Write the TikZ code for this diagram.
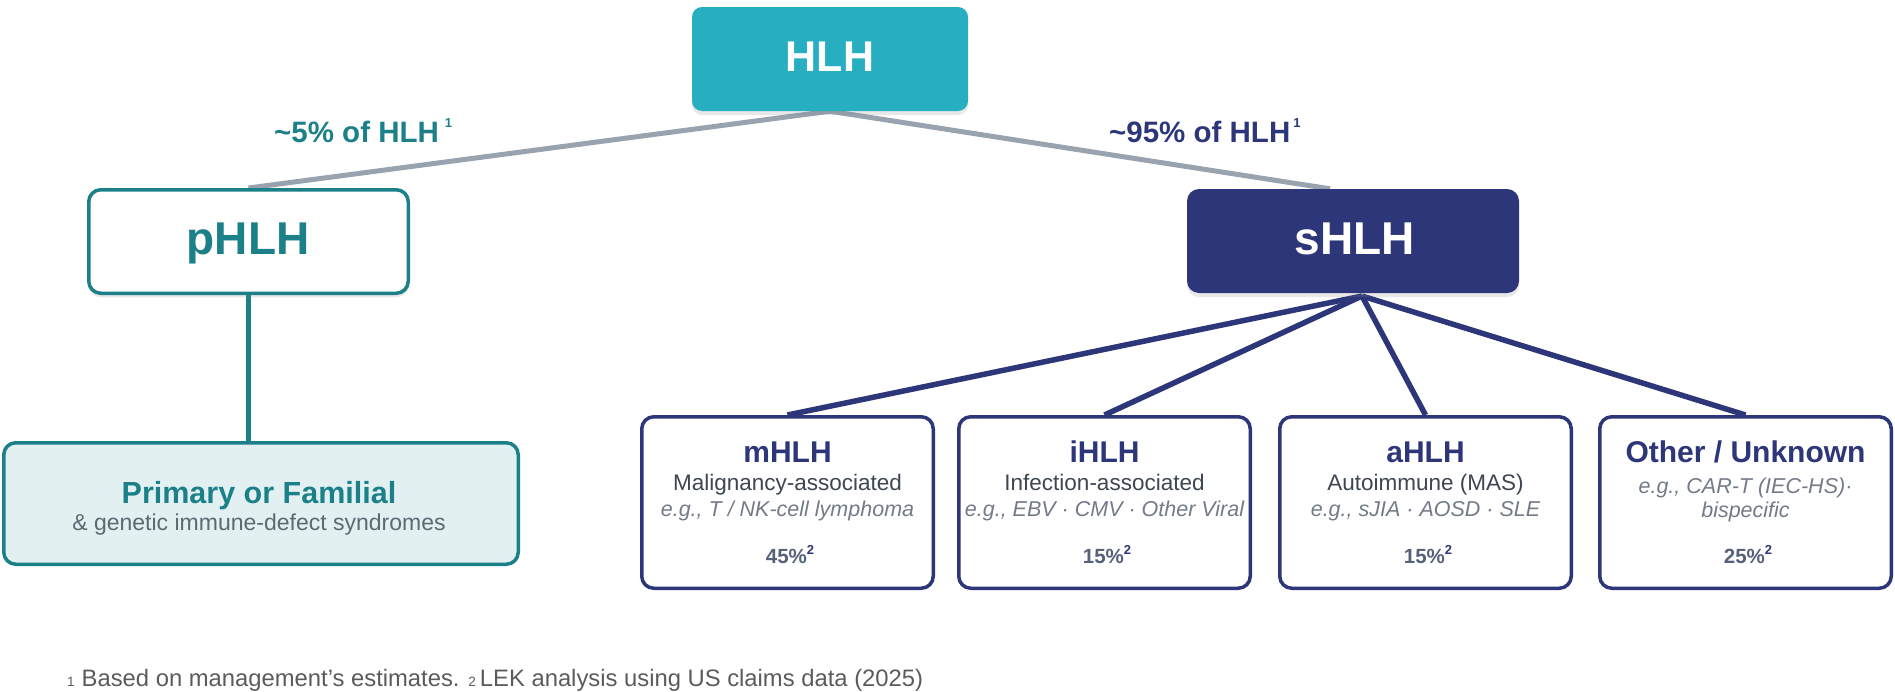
\documentclass[tikz,border=0pt]{standalone}
\usepackage{fontspec}
\setmainfont{Liberation Sans}
\usetikzlibrary{shadows,backgrounds,calc}
\definecolor{hlhcyan}{HTML}{28AEC1}
\definecolor{tealc}{HTML}{1C8089}
\definecolor{navyc}{HTML}{2D3679}
\definecolor{conngray}{HTML}{99A3B0}
\definecolor{primfill}{HTML}{E2F0F2}
\definecolor{subgray}{HTML}{3E4652}
\definecolor{exgray}{HTML}{737B89}
\definecolor{pctgray}{HTML}{56617A}
\definecolor{notegray}{HTML}{5B5B5B}
\definecolor{primsub}{HTML}{5F6872}
\newcommand{\fsz}[1]{\fontsize{#1}{#1}\selectfont}
\begin{document}
\begin{tikzpicture}[x=1pt,y=-1pt,
  boxbase/.style={rectangle, rounded corners=12pt, inner sep=0pt},
  softshadow/.style={drop shadow={opacity=0.18, shadow xshift=0pt, shadow yshift=-4pt}},
  hlhbox/.style={boxbase, rounded corners=10pt, fill=hlhcyan, minimum width=276pt, minimum height=104pt, softshadow},
  pbox/.style={boxbase, draw=tealc, line width=3.5pt, fill=white, minimum width=319.5pt, minimum height=103.5pt, softshadow},
  sbox/.style={boxbase, fill=navyc, minimum width=332pt, minimum height=104pt, softshadow},
  primbox/.style={boxbase, draw=tealc, line width=3.5pt, fill=primfill, minimum width=514.5pt, minimum height=121.5pt},
  subbox/.style={boxbase, draw=navyc, line width=3.5pt, fill=white, minimum width=291.5pt, minimum height=171.5pt},
  txt/.style={inner sep=0pt, anchor=base},
  bigtxt/.style={txt, font=\fsz{46}\bfseries},
  ttl/.style={txt, font=\fsz{30}\bfseries, text=navyc},
  subt/.style={txt, font=\fsz{22.5}, text=subgray},
  ex/.style={txt, font=\fsz{21.5}\itshape, text=exgray},
  pct/.style={txt, font=\fsz{20.5}\bfseries, text=pctgray},
  grayconn/.style={draw=conngray, line width=5pt},
  tealconn/.style={draw=tealc, line width=4.5pt},
  navyconn/.style={draw=navyc, line width=5.5pt},
]
\useasboundingbox (0,0) rectangle (1895,691);

% main boxes
\node[hlhbox] (hlh) at (830,59) {};
\node[pbox] (p) at (248.5,241.5) {};
\node[sbox] (s) at (1353,241) {};
\node[primbox] (prim) at (261,503.5) {};
\node[subbox] (m) at (787.5,502.5) {};
\node[subbox] (i) at (1104.5,502.5) {};
\node[subbox] (a) at (1425.5,502.5) {};
\node[subbox] (o) at (1745.5,502.5) {};

% texts of top boxes
\node[txt, font=\fsz{43}\bfseries, text=white] (hlht) at (830,71) {HLH};
\node[bigtxt, text=tealc] (pt) at (248,254) {pHLH};
\node[bigtxt, text=white] (st) at (1355,254) {sHLH};

% share labels
\node[txt, anchor=base west, font=\fsz{29.5}\bfseries, text=tealc] (l5) at (274,142)
  {\textasciitilde5\% of HLH\hspace{6pt}\raisebox{15pt}{\fsz{13}1}};
\node[txt, anchor=base west, font=\fsz{29.5}\bfseries, text=navyc] (l95) at (1109,142)
  {\textasciitilde95\% of HLH\hspace{3pt}\raisebox{15pt}{\fsz{13}1}};

% primary box texts
\node[txt, font=\fsz{30.5}\bfseries, text=tealc] (primt) at (259,503) {Primary or Familial};
\node[txt, font=\fsz{23}, text=primsub] (prims) at (259,530) {\& genetic immune-defect syndromes};

% sub boxes texts
\node[ttl] (mt) at (787.5,462) {mHLH};
\node[subt] (ms) at (787.5,490) {Malignancy-associated};
\node[ex] (me) at (787.5,516) {e.g., T / NK-cell lymphoma};
\node[pct] (mp) at (790,563) {45\%\textcolor{navyc}{\raisebox{9pt}{\fsz{13}2}}};

\node[ttl] (it) at (1104.5,462) {iHLH};
\node[subt] (is) at (1104.5,490) {Infection-associated};
\node[ex] (ie) at (1104.5,516) {e.g., EBV · CMV · Other Viral};
\node[pct] (ip) at (1107,563) {15\%\textcolor{navyc}{\raisebox{9pt}{\fsz{13}2}}};

\node[ttl] (at) at (1425.5,462) {aHLH};
\node[subt] (as) at (1425.5,490) {Autoimmune (MAS)};
\node[ex] (ae) at (1425.5,516) {e.g., sJIA · AOSD · SLE};
\node[pct] (ap) at (1428,563) {15\%\textcolor{navyc}{\raisebox{9pt}{\fsz{13}2}}};

\node[ttl] (ot) at (1745.5,462) {Other / Unknown};
\node[ex] (oe1) at (1745.5,493) {e.g., CAR-T (IEC-HS)·};
\node[ex] (oe2) at (1745.5,517) {bispecific};
\node[pct] (op) at (1748,563) {25\%\textcolor{navyc}{\raisebox{9pt}{\fsz{13}2}}};

% footnote
\node[txt, anchor=base west, font=\fsz{23.8}, text=notegray] (fn) at (67,686)
  {{\fsz{13.5}1}\hspace{7pt}Based on management’s estimates. {\fsz{13.5}2}\hspace{4pt}LEK analysis using US claims data (2025)};

% connectors
\coordinate (sj) at (1362,296);
\begin{scope}[on background layer]
\draw[grayconn] (hlh.south) -- (p.north);
\draw[grayconn] (hlh.south) -- ([xshift=-23pt]s.north);
\draw[tealconn] (p.south) -- (p.south |- prim.north);
\draw[navyconn] (sj) -- (m.north);
\draw[navyconn] (sj) -- (i.north);
\draw[navyconn] (sj) -- (a.north);
\draw[navyconn] (sj) -- (o.north);
\end{scope}
\end{tikzpicture}
\end{document}
